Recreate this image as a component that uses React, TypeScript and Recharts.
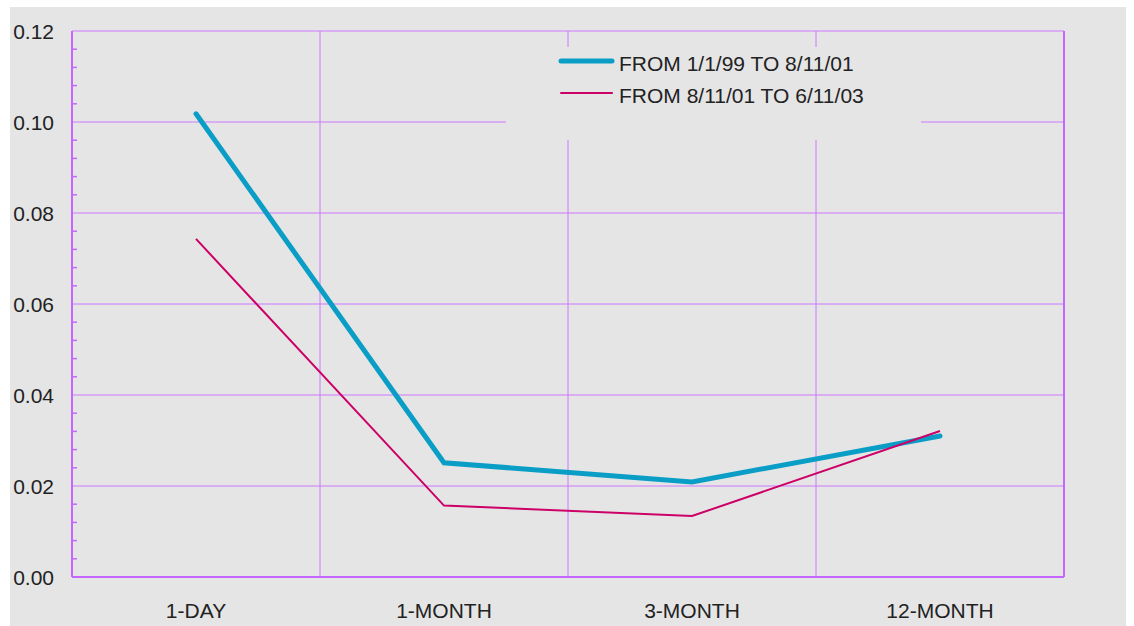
import React from "react";
import {
  ComposedChart,
  Line,
  XAxis,
  YAxis,
  ReferenceLine,
  CartesianGrid,
  Legend,
} from "recharts";

const horizons = ["1-DAY", "1-MONTH", "3-MONTH", "12-MONTH"];
const period1 = [0.1018, 0.0251, 0.0209, 0.031];
const period2 = [0.0743, 0.0157, 0.0134, 0.0321];
const seriesNames = ["FROM 1/1/99 TO 8/11/01", "FROM 8/11/01 TO 6/11/03"];
const majorTicks = [0, 0.02, 0.04, 0.06, 0.08, 0.1, 0.12];
const minorStep = 0.004;

const FONT = '"Liberation Sans", Arial, Helvetica, sans-serif';
const FS = 21;
const GRID = "#cc77ff";
const AXIS = "#c466ff";
const BLUE = "#0a9ec6";
const MAGENTA = "#cc0066";
const BG = "#e5e5e5";

const allTicks: number[] = [];
for (let i = 0; i <= 30; i++) allTicks.push(Number((i * minorStep).toFixed(3)));

const data = horizons.map((h, i) => ({
  horizon: h,
  a: period1[i],
  b: period2[i],
}));

function isMajor(v: number) {
  return majorTicks.some((m) => Math.abs(m - v) < 1e-6);
}

function makeTick(side: "left" | "right") {
  return (props: any) => {
    const { x, y, payload } = props;
    const v = payload.value as number;
    const dir = side === "left" ? 1 : -1;
    if (isMajor(v)) {
      return (
        <text
          x={side === "left" ? x - 18 : x + 18}
          y={y}
          dy="0.36em"
          textAnchor={side === "left" ? "end" : "start"}
          fontSize={FS}
          fontFamily={FONT}
          fill="#222"
        >
          {v.toFixed(2)}
        </text>
      );
    }
    return <line x1={x} x2={x + dir * 5} y1={y} y2={y} stroke={AXIS} strokeWidth={1.5} />;
  };
}

function LegendBox(props: any) {
  const items = props.payload ?? [];
  return (
    <svg width={415} height={93}>
      {items.map((it: any, i: number) => (
        <g key={i}>
          <line
            x1={55}
            x2={106}
            y1={14 + i * 32}
            y2={14 + i * 32}
            stroke={it.color}
            strokeWidth={i === 0 ? 5 : 2}
            strokeLinecap="round"
          />
          <text x={113} y={24 + i * 32} fontSize={FS} fontFamily={FONT} fill="#222">
            {it.value}
          </text>
        </g>
      ))}
    </svg>
  );
}

export default function App() {
  return (
    <div style={{ position: "absolute", left: 0, top: 0, width: 1134, height: 626, background: "#fff" }}>
      <div style={{ position: "absolute", left: 10, top: 7, width: 1116, height: 619, background: BG }} />
      <div style={{ position: "absolute", left: 0, top: 0 }}>
        <ComposedChart
          width={1134}
          height={626}
          data={data}
          margin={{ top: 31, right: 0, left: 0, bottom: 0 }}
        >
          <CartesianGrid
            horizontal={false}
            stroke={GRID}
            strokeWidth={1}
            verticalCoordinatesGenerator={({ offset }: any) =>
              [1, 2, 3].map((i) => offset.left + (offset.width * i) / horizons.length)
            }
          />
          <XAxis
            dataKey="horizon"
            scale="band"
            height={49}
            tickSize={0}
            tickMargin={26}
            axisLine={{ stroke: AXIS, strokeWidth: 2 }}
            tick={{ fontSize: FS, fontFamily: FONT, fill: "#222" }}
          />
          <YAxis
            yAxisId="left"
            width={72}
            domain={[0, 0.12]}
            ticks={allTicks}
            interval={0}
            tickSize={0}
            tickMargin={0}
            axisLine={{ stroke: AXIS, strokeWidth: 2 }}
            tick={makeTick("left")}
          />
          <YAxis
            yAxisId="right"
            orientation="right"
            width={70}
            domain={[0, 0.12]}
            ticks={allTicks}
            interval={0}
            tickSize={0}
            tickMargin={0}
            axisLine={{ stroke: AXIS, strokeWidth: 2 }}
            tick={makeTick("right")}
          />
          {majorTicks.slice(1).map((v) => (
            <ReferenceLine key={"h" + v} yAxisId="left" y={v} stroke={GRID} strokeWidth={1} />
          ))}
          <Legend
            layout="vertical"
            align="center"
            verticalAlign="middle"
            content={<LegendBox />}
            wrapperStyle={{ position: "absolute", left: 506, top: 47, width: 415, height: 93, background: BG }}
          />
          <Line
            yAxisId="left"
            dataKey="a"
            name={seriesNames[0]}
            stroke={BLUE}
            strokeWidth={5}
            strokeLinecap="round"
            dot={false}
            isAnimationActive={false}
          />
          <Line
            yAxisId="left"
            dataKey="b"
            name={seriesNames[1]}
            stroke={MAGENTA}
            strokeWidth={2}
            dot={false}
            isAnimationActive={false}
          />
        </ComposedChart>
      </div>
    </div>
  );
}
